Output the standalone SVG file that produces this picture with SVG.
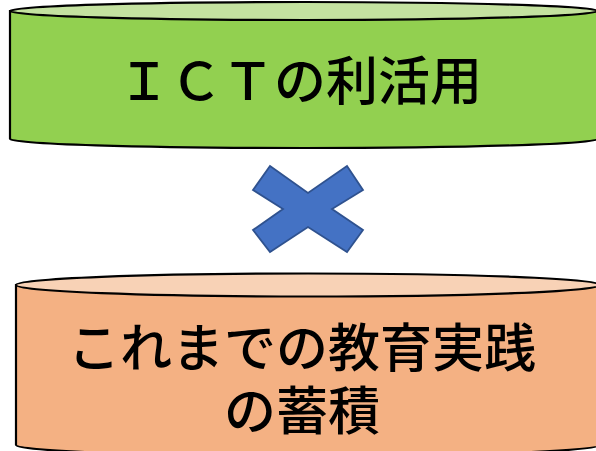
<svg xmlns="http://www.w3.org/2000/svg" width="596" height="451" viewBox="0 0 596 451">
<style>
.edge{stroke:#000;stroke-width:2.2}
.lbl{font-family:"Noto Sans CJK JP","Noto Sans",sans-serif;fill:#000;text-anchor:middle;font-weight:500}
</style>
<rect width="596" height="451" fill="#fff"/>
<g id="ict">
<path class="edge" d="M10,11 L10,139 A294,9 0 0 0 598,139 L598,11 Z" fill="#92D050"/>
<ellipse class="edge" cx="304" cy="11" rx="294" ry="9" fill="#C4E2A0"/>
<text class="lbl" x="300" y="100" font-size="52">ＩＣＴの利活用</text>
</g>
<g id="cross">
<polygon points="270,166 308,193 347,166 363,190 332,209 363,230 347,252 308,227 270,252 253,230 283,209 253,190" fill="#4472C4" stroke="#2F528F" stroke-width="1.8" stroke-linejoin="miter"/>
</g>
<g id="practice">
<path class="edge" d="M16,285 L16,445 A292,11 0 0 0 600,445 L600,285 Z" fill="#F4B183"/>
<ellipse class="edge" cx="308" cy="285" rx="292" ry="11.5" fill="#F8D2B6"/>
<text class="lbl" x="302" y="367" font-size="52">これまでの教育実践</text>
<text class="lbl" x="302" y="430" font-size="52">の蓄積</text>
</g>
</svg>
